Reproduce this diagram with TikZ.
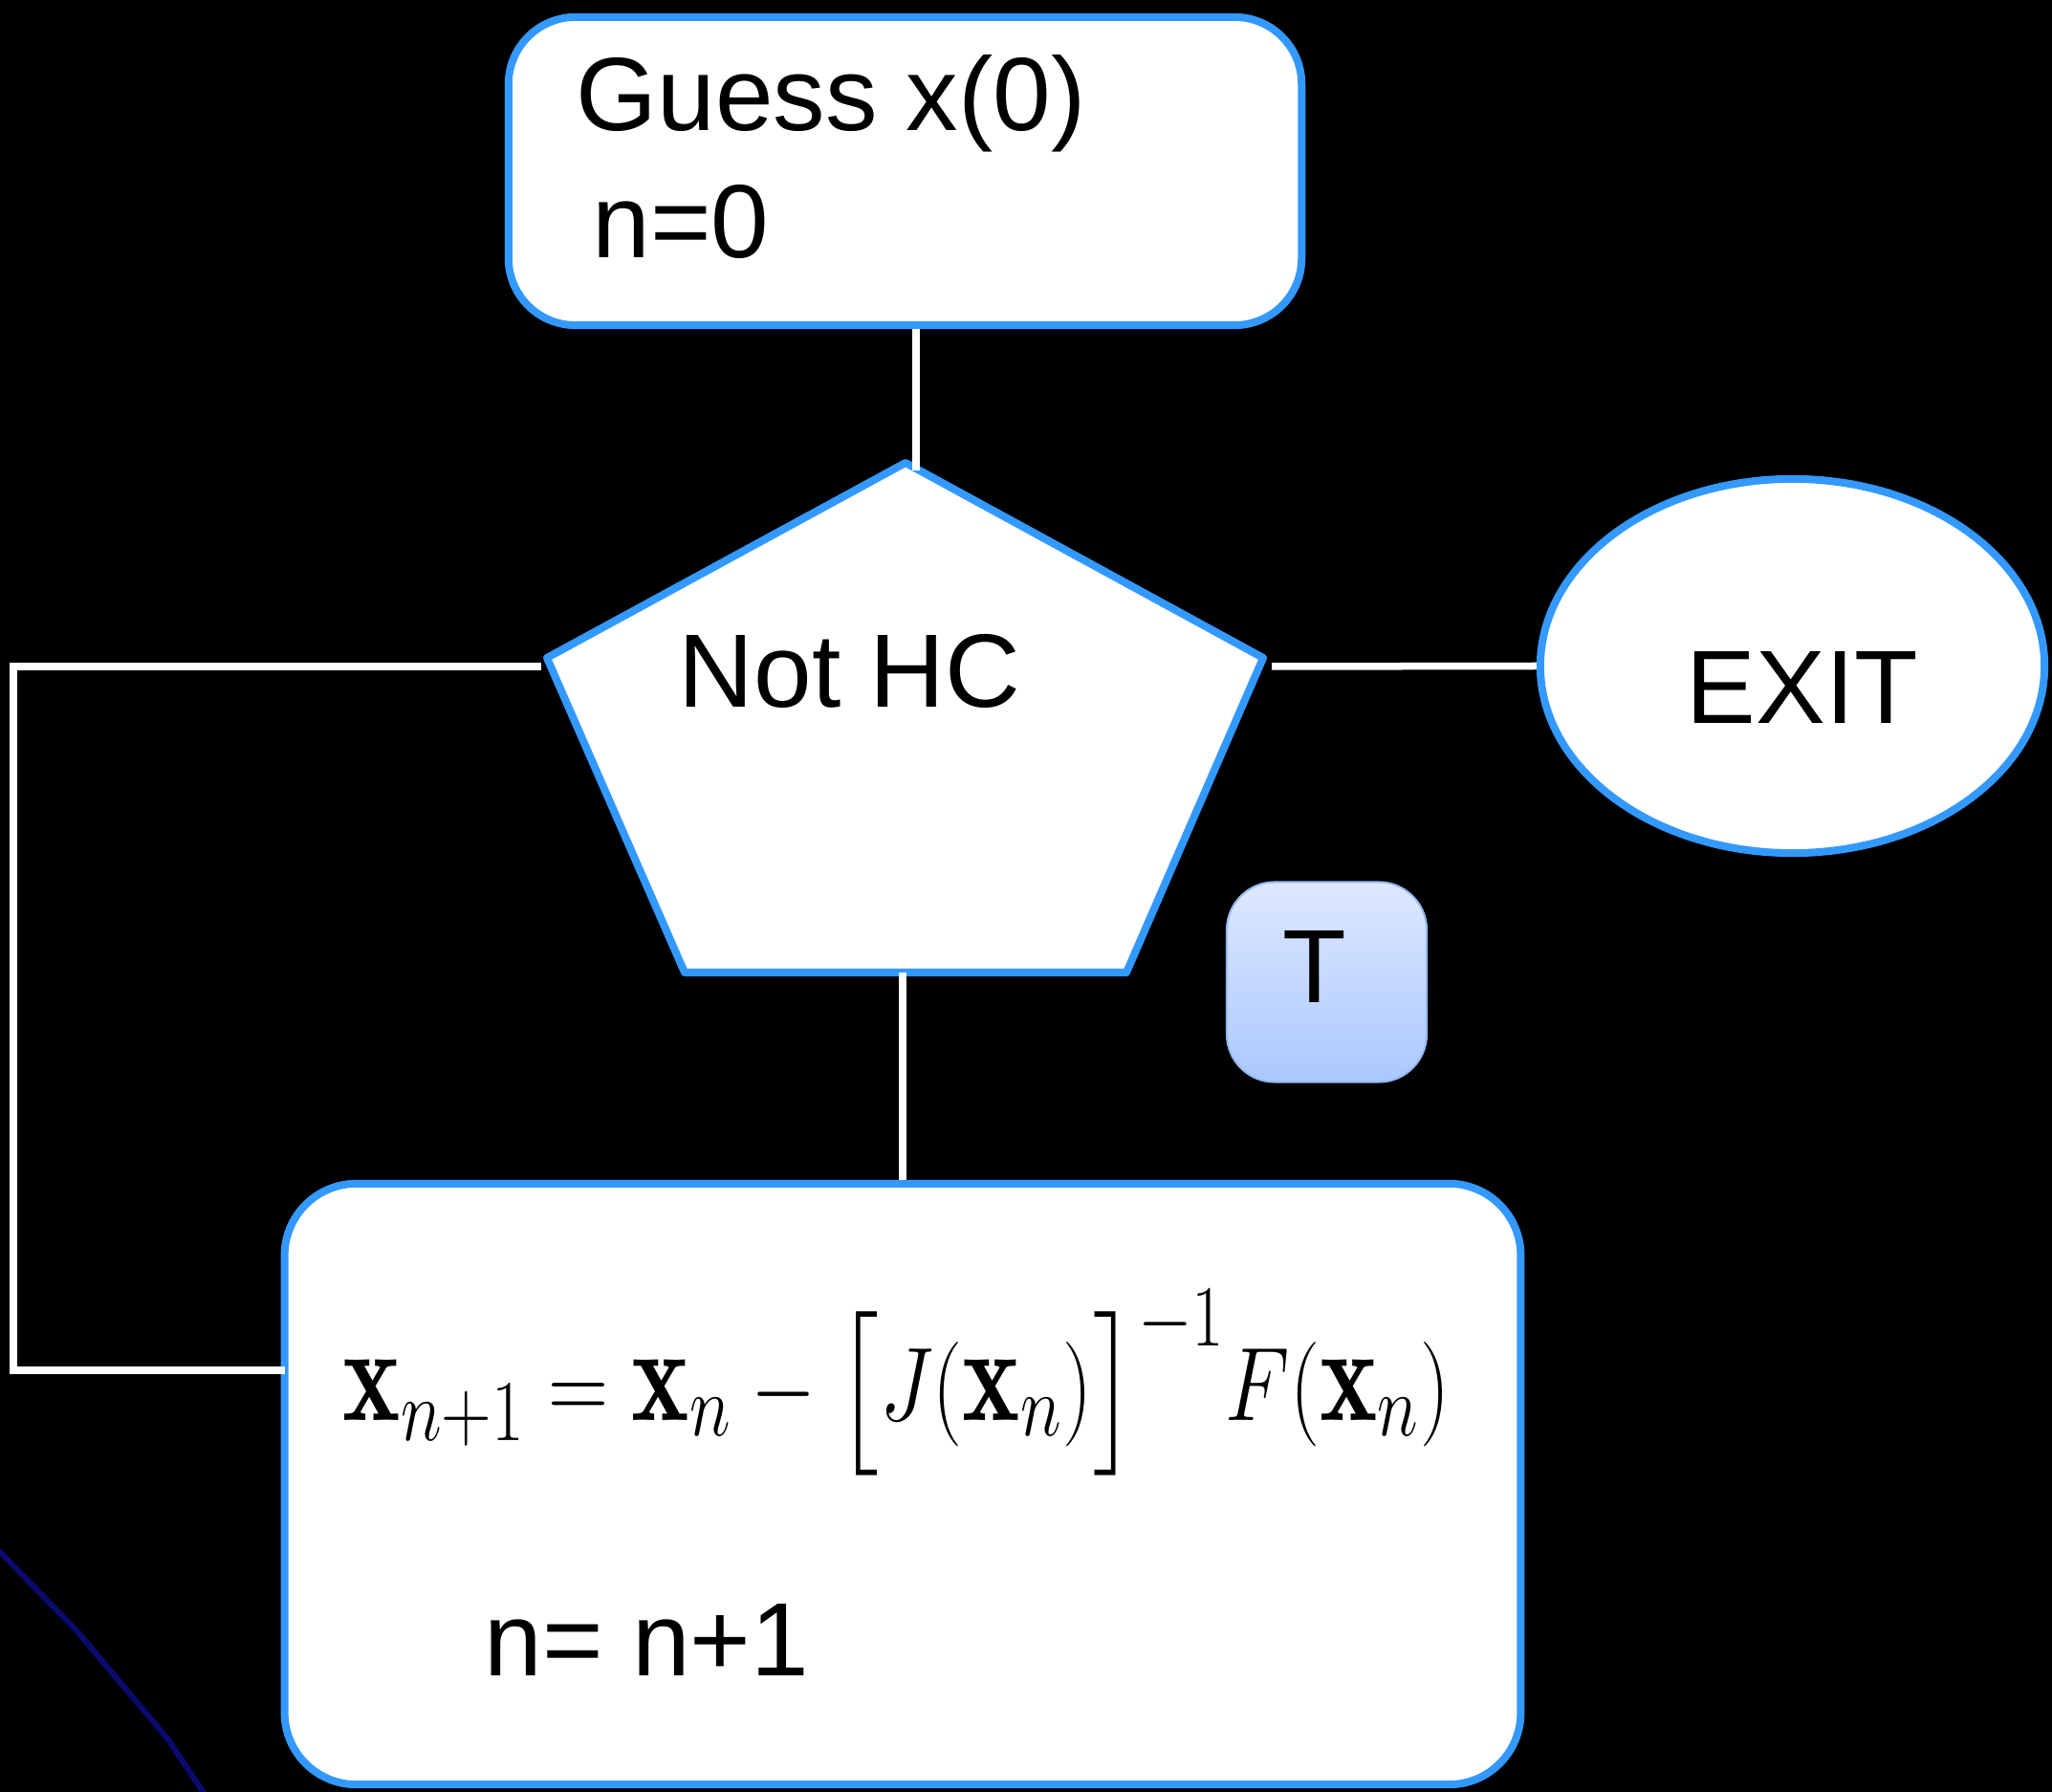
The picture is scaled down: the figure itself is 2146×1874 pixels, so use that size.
\documentclass[tikz,border=0pt]{standalone}
\usepackage{amsmath,amssymb}
\usepackage{graphicx}
\usepackage{fontspec}
\newfontfamily\arialfont{Liberation Sans}
\usepackage{tikz}
\usetikzlibrary{shapes.geometric,positioning}

\definecolor{boxblue}{RGB}{51,153,255}
\definecolor{tfilltop}{RGB}{222,232,255}
\definecolor{tfillbot}{RGB}{170,200,255}
\definecolor{tborder}{RGB}{150,185,245}
\definecolor{inkblue}{RGB}{10,10,110}

\begin{document}
\begin{tikzpicture}[x=0.01cm,y=-0.01cm,
  procbox/.style={draw=boxblue,fill=white,line width=0.08cm,inner sep=0pt},
  wire/.style={draw=white,line width=0.075cm},
  txt/.style={font=\arialfont\fontsize{31}{38}\selectfont,inner sep=0pt,anchor=base west}]
  \fill[black] (0,0) rectangle (2146,1874); % 背景（黒）
  \useasboundingbox (0,0) rectangle (2146,1874);
  \draw[inkblue,line width=0.06cm,line join=round]
    (-5,1618) -- (80,1705) -- (175,1818) -- (215,1878); % 左下の紺色の線

  \node[procbox,rounded corners=0.7cm,minimum width=8.29cm,minimum height=3.22cm]
    (guess) at (946.5,179) {}; % 初期値の箱
  \node[procbox,rounded corners=0.75cm,minimum width=12.92cm,minimum height=6.28cm]
    (update) at (944,1552) {}; % 更新式の箱
  \node[procbox,ellipse,minimum width=5.27cm,minimum height=3.91cm]
    (exit) at (1874.5,696.5) {}; % 終了の楕円
  \node[draw=tborder,line width=0.02cm,rounded corners=0.5cm,top color=tfilltop,bottom color=tfillbot,
    minimum size=2.09cm,inner sep=0pt] (tflag) at (1387.5,1027) {}; % 真の印

  \draw[procbox,line join=round]
    (947,484) coordinate (hctop) -- (1321,688) -- (1178,1017) -- (716,1017) -- (572,688) -- cycle; % 判定の五角形
  \coordinate (hcin) at (958,492);
  \coordinate (hcleft) at (566,697);
  \coordinate (hcright) at (1330,697);
  \coordinate (hcbase) at (944,1017);
  \coordinate (loop) at (14,697);
  \coordinate (back) at (298,1433);

  \draw[wire] (guess.south -| hcin) -- (hcin); % 初期値から判定へ
  \draw[wire] (hcbase) -- (update.north); % 判定から更新へ
  \draw[wire] (hcleft) -- (loop) |- (back); % 更新から判定へ戻る線
  \draw[wire] (hcright) -- (exit.west); % 判定から終了へ

  \node[txt] (guess1) at (602,137) {Guess x(0)};
  \node[txt] (guess2) at (619,270) {n=0};
  \node[txt] (hctext) at (709,740) {Not HC};
  \node[txt] (exittext) at (1763,757) {EXIT};
  \node[txt] (ttext) at (1341,1048) {T};
  \node[anchor=base west,inner sep=0pt,font=\fontsize{32.5}{39}\selectfont] (newton) at (358,1485)
    {\scalebox{1}[1.25]{$\mathbf{x}_{n+1} = \mathbf{x}_n - \bigl[J(\mathbf{x}_n)\bigr]^{-1} F(\mathbf{x}_n)$}}; % ニュートン法の式
  \node[txt] (step) at (506,1752) {n= n+1};
\end{tikzpicture}
\end{document}
